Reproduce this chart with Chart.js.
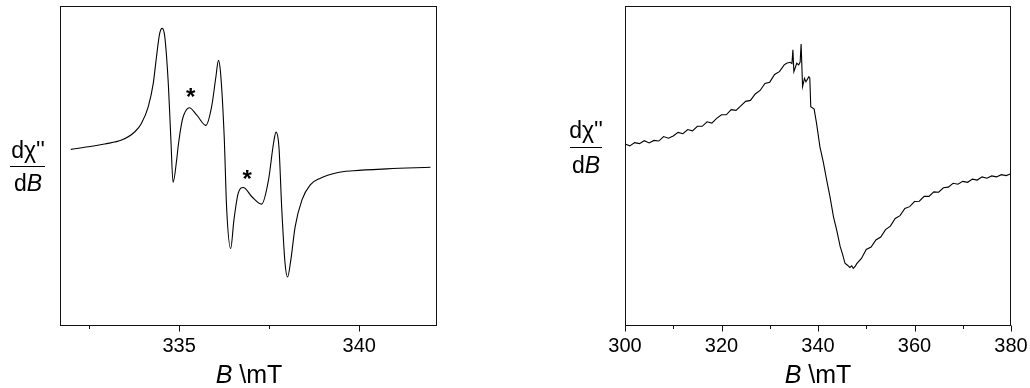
<!DOCTYPE html>
<html>
<head>
<meta charset="utf-8">
<script src="https://cdn.jsdelivr.net/npm/chart.js@4.4.1/dist/chart.umd.min.js"></script>
<style>
  body { margin: 0; background: #fff; font-family: 'Liberation Sans', Arial, sans-serif; color: #000; }
  #wrap { position: relative; width: 1030px; height: 388px; overflow: hidden; }
  canvas { position: absolute; top: 0; }
  .lbl { position: absolute; font-size: 23px; line-height: 23px; text-align: center; white-space: nowrap; }
  .bar { position: absolute; height: 1px; background: #000; }
  .xt { position: absolute; font-size: 25px; line-height: 25px; text-align: center; white-space: nowrap; width: 200px; }
</style>
</head>
<body>
<div id="wrap">
  <canvas id="left" width="450" height="388" style="left:0"></canvas>
  <canvas id="right" width="490" height="388" style="left:540px"></canvas>

  <div class="lbl" style="left:-22px;width:100px;top:139px">dχ''</div>
  <div class="bar" style="left:10px;width:35px;top:166px"></div>
  <div class="lbl" style="left:-22px;width:100px;top:172px">d<i>B</i></div>
  <div class="xt" style="left:149px;top:362px"><i>B</i> \mT</div>

  <div class="lbl" style="left:536px;width:100px;top:119px">dχ''</div>
  <div class="bar" style="left:570px;width:32px;top:147px"></div>
  <div class="lbl" style="left:536px;width:100px;top:154px">d<i>B</i></div>
  <div class="xt" style="left:718px;top:362px"><i>B</i> \mT</div>
</div>
<script>
// left spectrum (narrow sweep)
const leftField = [331.99, 332.47, 332.93, 333.40, 333.77, 333.95, 334.14, 334.28, 334.37, 334.46,
  334.53, 334.60, 334.70, 334.77, 334.83, 334.93, 334.97, 335.07, 335.13, 335.28,
  335.49, 335.74, 335.90, 336.02, 336.09, 336.15, 336.25, 336.32, 336.43, 336.52,
  336.64, 336.78, 337.02, 337.29, 337.48, 337.62, 337.69, 337.77, 337.85, 337.94,
  338.01, 338.10, 338.22, 338.41, 338.64, 338.92, 339.38, 339.84, 340.77, 341.98];
const leftSignal = [55.2, 56.0, 56.9, 58.1, 60.7, 63.3, 68.5, 75.8, 84.2, 91.5,
  93.0, 90.4, 75.3, 58.1, 44.9, 51.9, 56.0, 63.5, 66.0, 68.2,
  65.9, 62.7, 68.5, 77.9, 83.0, 79.0, 59.2, 36.3, 24.2, 33.1,
  41.5, 43.3, 40.4, 38.1, 45.6, 57.1, 60.6, 56.0, 36.3, 19.6,
  15.3, 20.6, 31.0, 39.4, 44.1, 46.2, 47.9, 48.5, 49.1, 49.6];
const leftTicks = [332.5, 335, 337.5, 340];
const leftLabels = [335, 340];
const starField = [335.32, 336.89];
const starLevel = [72.9, 47.5];

// right spectrum (wide sweep, noisy)
const rightField = [300, 301, 302, 303, 304, 305, 306, 307, 308, 309,
  310, 311, 312, 313, 314, 315, 316, 317, 318, 319,
  320, 321, 322, 323, 324, 325, 326, 327, 328, 329,
  330, 331, 332, 333, 333.5, 334.2, 334.6, 334.8, 335.0, 335.6,
  336.0, 336.3, 336.5, 336.8, 337.2, 337.5, 338.1, 338.3, 338.5, 339.2,
  339.7, 340.4, 341.1, 341.8, 342.5, 343.2, 343.9, 344.6, 345.1, 345.6,
  346.1, 346.6, 347.0, 347.3, 347.7, 348, 349, 350, 351, 352,
  353, 354, 355, 356, 357, 358, 359, 360, 361, 362,
  363, 364, 365, 366, 367, 368, 369, 370, 371, 372,
  373, 374, 375, 376, 377, 378, 379, 380];
const rightSignal = [56.9, 56.3, 57.3, 57.0, 57.9, 57.2, 58.0, 57.8, 59.2, 58.7,
  59.4, 60.5, 60.1, 61.4, 61.0, 62.4, 62.4, 63.8, 63.4, 64.9,
  66.0, 66.0, 67.6, 67.4, 68.8, 70.2, 70.5, 72.5, 73.6, 75.8,
  76.2, 78.6, 79.5, 81.6, 82.1, 82.4, 82.0, 86.3, 79.5, 82.1,
  81.6, 82.5, 88.1, 74.8, 77.4, 76.3, 77.9, 77.5, 68.5, 67.8,
  63.3, 56.0, 51.2, 45.6, 40.3, 34.2, 29.8, 24.8, 22.4, 19.6,
  19.0, 18.3, 18.8, 18.0, 18.6, 19.4, 21.1, 23.9, 24.7, 26.9,
  27.8, 30.1, 31.2, 33.6, 34.5, 36.7, 37.3, 38.9, 39.0, 40.5,
  40.5, 41.9, 41.8, 43.2, 43.4, 44.6, 44.3, 45.2, 44.9, 45.9,
  45.6, 46.6, 46.2, 46.9, 46.6, 47.3, 47.0, 47.6];
const rightTicks = [300, 310, 320, 330, 340, 350, 360, 370, 380];
const rightLabels = [300, 320, 340, 360, 380];

const FONT = "'Liberation Sans', Arial, sans-serif";

const framePlugin = {
  id: 'frame',
  afterDraw(chart, args, opts) {
    const { ctx, chartArea: a, scales: { x, y } } = chart;
    const l = Math.round(a.left) + 0.5, r = Math.round(a.right) - 0.5;
    const t = Math.round(a.top) + 0.5, b = Math.round(a.bottom) - 0.5;
    ctx.save();
    ctx.strokeStyle = '#111';
    ctx.lineWidth = 1;
    ctx.strokeRect(l, t, r - l, b - t);
    ctx.beginPath();
    x.ticks.forEach(tk => {
      const px = Math.round(x.getPixelForValue(tk.value)) + 0.5;
      const len = opts.labels.includes(tk.value) ? 6 : 3.5;
      ctx.moveTo(px, b);
      ctx.lineTo(px, b + len);
    });
    ctx.stroke();
    if (opts.stars) {
      ctx.fillStyle = '#000';
      ctx.font = 'bold 24px ' + FONT;
      ctx.textAlign = 'center';
      ctx.textBaseline = 'alphabetic';
      const m = ctx.measureText('*');
      const mid = (m.actualBoundingBoxAscent - m.actualBoundingBoxDescent) / 2;
      opts.stars.field.forEach((f, i) => {
        ctx.fillText('*', x.getPixelForValue(f), y.getPixelForValue(opts.stars.level[i]) + mid);
      });
    }
    ctx.restore();
  }
};

function makeChart(id, field, signal, min, max, ticks, labels, pad, smooth, stars) {
  return new Chart(document.getElementById(id), {
    type: 'line',
    data: {
      datasets: [{
        data: field.map((f, i) => ({ x: f, y: signal[i] })),
        borderColor: '#000',
        borderWidth: 1.1,
        pointRadius: 0,
        fill: false,
        cubicInterpolationMode: smooth ? 'monotone' : 'default',
        tension: 0
      }]
    },
    options: {
      responsive: false,
      animation: false,
      layout: { padding: pad },
      plugins: { legend: { display: false }, tooltip: { enabled: false }, frame: { labels, stars } },
      scales: {
        x: {
          type: 'linear', min, max,
          afterBuildTicks: axis => { axis.ticks = ticks.map(v => ({ value: v })); },
          afterFit: axis => { axis.height = 62; },
          border: { display: false },
          grid: { drawOnChartArea: false, drawTicks: true, tickLength: 6, tickColor: 'rgba(0,0,0,0)' },
          ticks: {
            autoSkip: false, maxRotation: 0, padding: 2, color: '#000',
            font: { family: FONT, size: 20 },
            callback: v => labels.includes(v) ? String(v) : ''
          }
        },
        y: { display: false, min: 0, max: 100 }
      }
    },
    plugins: [framePlugin]
  });
}

makeChart('left', leftField, leftSignal, 331.69, 342.16, leftTicks, leftLabels,
  { left: 60, top: 6, right: 13, bottom: 0 }, true, { field: starField, level: starLevel });
makeChart('right', rightField, rightSignal, 300, 380, rightTicks, rightLabels,
  { left: 85, top: 6, right: 19, bottom: 0 }, false, null);
</script>
</body>
</html>
